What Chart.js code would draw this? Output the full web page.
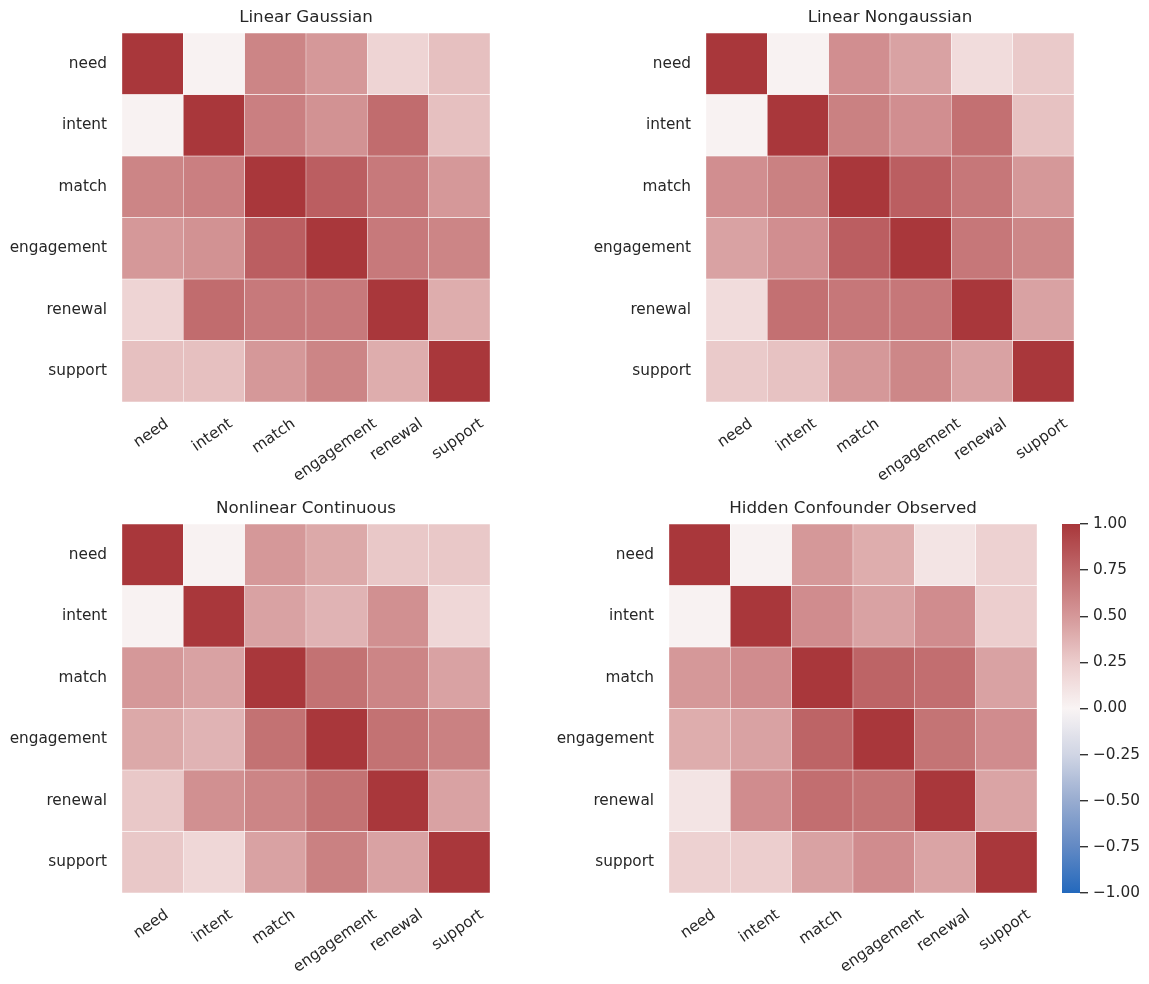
<!DOCTYPE html>
<html>
<head>
<meta charset="utf-8">
<script src="https://cdn.jsdelivr.net/npm/chart.js@4.4.1/dist/chart.umd.min.js"></script>
<style>
  body { margin: 0; background: #fff; }
  #wrap { position: relative; width: 1149px; height: 984px; }
  canvas { position: absolute; }
</style>
</head>
<body>
<div id="wrap">
  <canvas id="c1" width="500" height="490" style="left:0px;top:0px"></canvas>
  <canvas id="c2" width="500" height="490" style="left:584px;top:0px"></canvas>
  <canvas id="c3" width="500" height="490" style="left:0px;top:491px"></canvas>
  <canvas id="c4" width="500" height="490" style="left:547px;top:491px"></canvas>
  <canvas id="cb" width="109" height="420" style="left:1040px;top:500px"></canvas>
</div>
<script>
var variables = ['need', 'intent', 'match', 'engagement', 'renewal', 'support'];

var linearGaussian = [
  [1.00, 0.01, 0.60, 0.50, 0.20, 0.31],
  [0.01, 1.00, 0.63, 0.53, 0.73, 0.31],
  [0.60, 0.63, 1.00, 0.80, 0.66, 0.50],
  [0.50, 0.53, 0.80, 1.00, 0.66, 0.60],
  [0.20, 0.73, 0.66, 0.66, 1.00, 0.40],
  [0.31, 0.31, 0.50, 0.60, 0.40, 1.00]
];

var linearNongaussian = [
  [1.00, 0.01, 0.55, 0.45, 0.15, 0.26],
  [0.01, 1.00, 0.62, 0.55, 0.71, 0.30],
  [0.55, 0.62, 1.00, 0.80, 0.67, 0.50],
  [0.45, 0.55, 0.80, 1.00, 0.67, 0.59],
  [0.15, 0.71, 0.67, 0.67, 1.00, 0.45],
  [0.26, 0.30, 0.50, 0.59, 0.45, 1.00]
];

var nonlinearContinuous = [
  [1.00, 0.01, 0.50, 0.42, 0.27, 0.27],
  [0.01, 1.00, 0.45, 0.37, 0.54, 0.18],
  [0.50, 0.45, 1.00, 0.70, 0.60, 0.45],
  [0.42, 0.37, 0.70, 1.00, 0.70, 0.62],
  [0.27, 0.54, 0.60, 0.70, 1.00, 0.45],
  [0.27, 0.18, 0.45, 0.62, 0.45, 1.00]
];

var hiddenConfounder = [
  [1.00, 0.01, 0.50, 0.40, 0.10, 0.22],
  [0.01, 1.00, 0.56, 0.45, 0.56, 0.24],
  [0.50, 0.56, 1.00, 0.77, 0.72, 0.45],
  [0.40, 0.45, 0.77, 1.00, 0.69, 0.56],
  [0.10, 0.56, 0.72, 0.69, 1.00, 0.44],
  [0.22, 0.24, 0.45, 0.56, 0.44, 1.00]
];

var colorbarTicks = [-1, -0.75, -0.5, -0.25, 0, 0.25, 0.5, 0.75, 1];

// vlag-like diverging colour map
var vlagStops = [
  [-1, [35, 105, 189]], [-0.75, [98, 137, 196]], [-0.5, [152, 172, 208]],
  [-0.25, [208, 213, 228]], [0, [249, 244, 244]], [0.25, [235, 204, 204]],
  [0.5, [213, 152, 153]], [0.75, [191, 104, 106]], [1, [169, 55, 59]]
];

function cmap(v) {
  v = Math.max(-1, Math.min(1, v));
  for (var i = 1; i < vlagStops.length; i++) {
    if (v <= vlagStops[i][0]) {
      var a = vlagStops[i - 1], b = vlagStops[i];
      var t = (v - a[0]) / (b[0] - a[0]);
      var c = a[1].map(function(x, k) { return Math.round(x + (b[1][k] - x) * t); });
      return 'rgb(' + c.join(',') + ')';
    }
  }
  return 'rgb(169,55,59)';
}

Chart.defaults.font.family = '"DejaVu Sans", sans-serif';
Chart.defaults.color = '#262626';

// x tick labels rotated 35deg, centred on the tick like matplotlib
var xLabels = {
  id: 'xLabels',
  afterDraw: function(chart) {
    var ctx = chart.ctx, sx = chart.scales.x, area = chart.chartArea;
    var size = 15.3, ang = 35 * Math.PI / 180;
    ctx.save();
    ctx.font = size + 'px "DejaVu Sans"';
    ctx.fillStyle = '#262626';
    ctx.textAlign = 'center';
    ctx.textBaseline = 'middle';
    variables.forEach(function(lab, i) {
      var w = ctx.measureText(lab).width, h = size * 1.17;
      var bh = w * Math.sin(ang) + h * Math.cos(ang);
      var x = sx.getPixelForValue(i) - 1.5, y = area.bottom + 13 + bh / 2;
      ctx.save();
      ctx.translate(x, y);
      ctx.rotate(-ang);
      ctx.fillText(lab, 0, 0);
      ctx.restore();
    });
    ctx.restore();
  }
};

function heatmap(id, title, matrix) {
  var datasets = matrix.map(function(row) {
    return {
      data: variables.map(function() { return 1; }),
      backgroundColor: row.map(cmap),
      borderColor: '#ffffff',
      borderWidth: 0.5,
      borderSkipped: false,
      yAxisID: 'v',
      categoryPercentage: 1,
      barPercentage: 1
    };
  });
  new Chart(document.getElementById(id), {
    type: 'bar',
    data: { labels: variables, datasets: datasets },
    options: {
      responsive: false,
      animation: false,
      layout: { padding: { left: 0, right: 10, top: 0, bottom: 88 } },
      plugins: {
        legend: { display: false },
        tooltip: { enabled: false },
        title: {
          display: true, text: title, color: '#262626', fullSize: false,
          font: { size: 16.7, weight: 'normal' },
          padding: { top: 8, bottom: 5 }
        }
      },
      scales: {
        x: { display: false, stacked: true, offset: true },
        v: { type: 'linear', display: false, stacked: true, min: 0, max: 6, reverse: true },
        y: {
          type: 'category', labels: variables, offset: true, position: 'left',
          grid: { display: false, drawTicks: false, tickLength: 0 },
          border: { display: false },
          ticks: { padding: 15, autoSkip: false, font: { size: 15.3 }, color: '#262626' },
          afterFit: function(s) { s.width = 122; }
        }
      }
    },
    plugins: [xLabels]
  });
}

heatmap('c1', 'Linear Gaussian', linearGaussian);
heatmap('c2', 'Linear Nongaussian', linearNongaussian);
heatmap('c3', 'Nonlinear Continuous', nonlinearContinuous);
heatmap('c4', 'Hidden Confounder Observed', hiddenConfounder);

// colour bar
new Chart(document.getElementById('cb'), {
  type: 'bar',
  data: {
    labels: [''],
    datasets: [{
      data: [[-1, 1]],
      borderWidth: 0,
      categoryPercentage: 1,
      barPercentage: 1,
      backgroundColor: function(c) {
        var area = c.chart.chartArea;
        if (!area) return cmap(0);
        var g = c.chart.ctx.createLinearGradient(0, area.bottom, 0, area.top);
        for (var k = 0; k <= 40; k++) {
          g.addColorStop(k / 40, cmap(-1 + 2 * k / 40));
        }
        return g;
      }
    }]
  },
  options: {
    responsive: false,
    animation: false,
    layout: { padding: { left: 22, right: 0, top: 24, bottom: 27 } },
    plugins: { legend: { display: false }, tooltip: { enabled: false } },
    scales: {
      x: { display: false },
      y: {
        position: 'right', min: -1, max: 1,
        afterBuildTicks: function(s) {
          s.ticks = colorbarTicks.map(function(v) { return { value: v }; });
        },
        ticks: {
          padding: 5, font: { size: 15.3 }, color: '#262626',
          callback: function(v) { return (v < 0 ? '\u2212' : '') + Math.abs(v).toFixed(2); }
        },
        grid: { drawOnChartArea: false, drawTicks: true, tickLength: 8, color: '#333333', lineWidth: 1.4 },
        border: { display: false },
        afterFit: function(s) { s.width = 69; }
      }
    }
  }
});
</script>
</body>
</html>
